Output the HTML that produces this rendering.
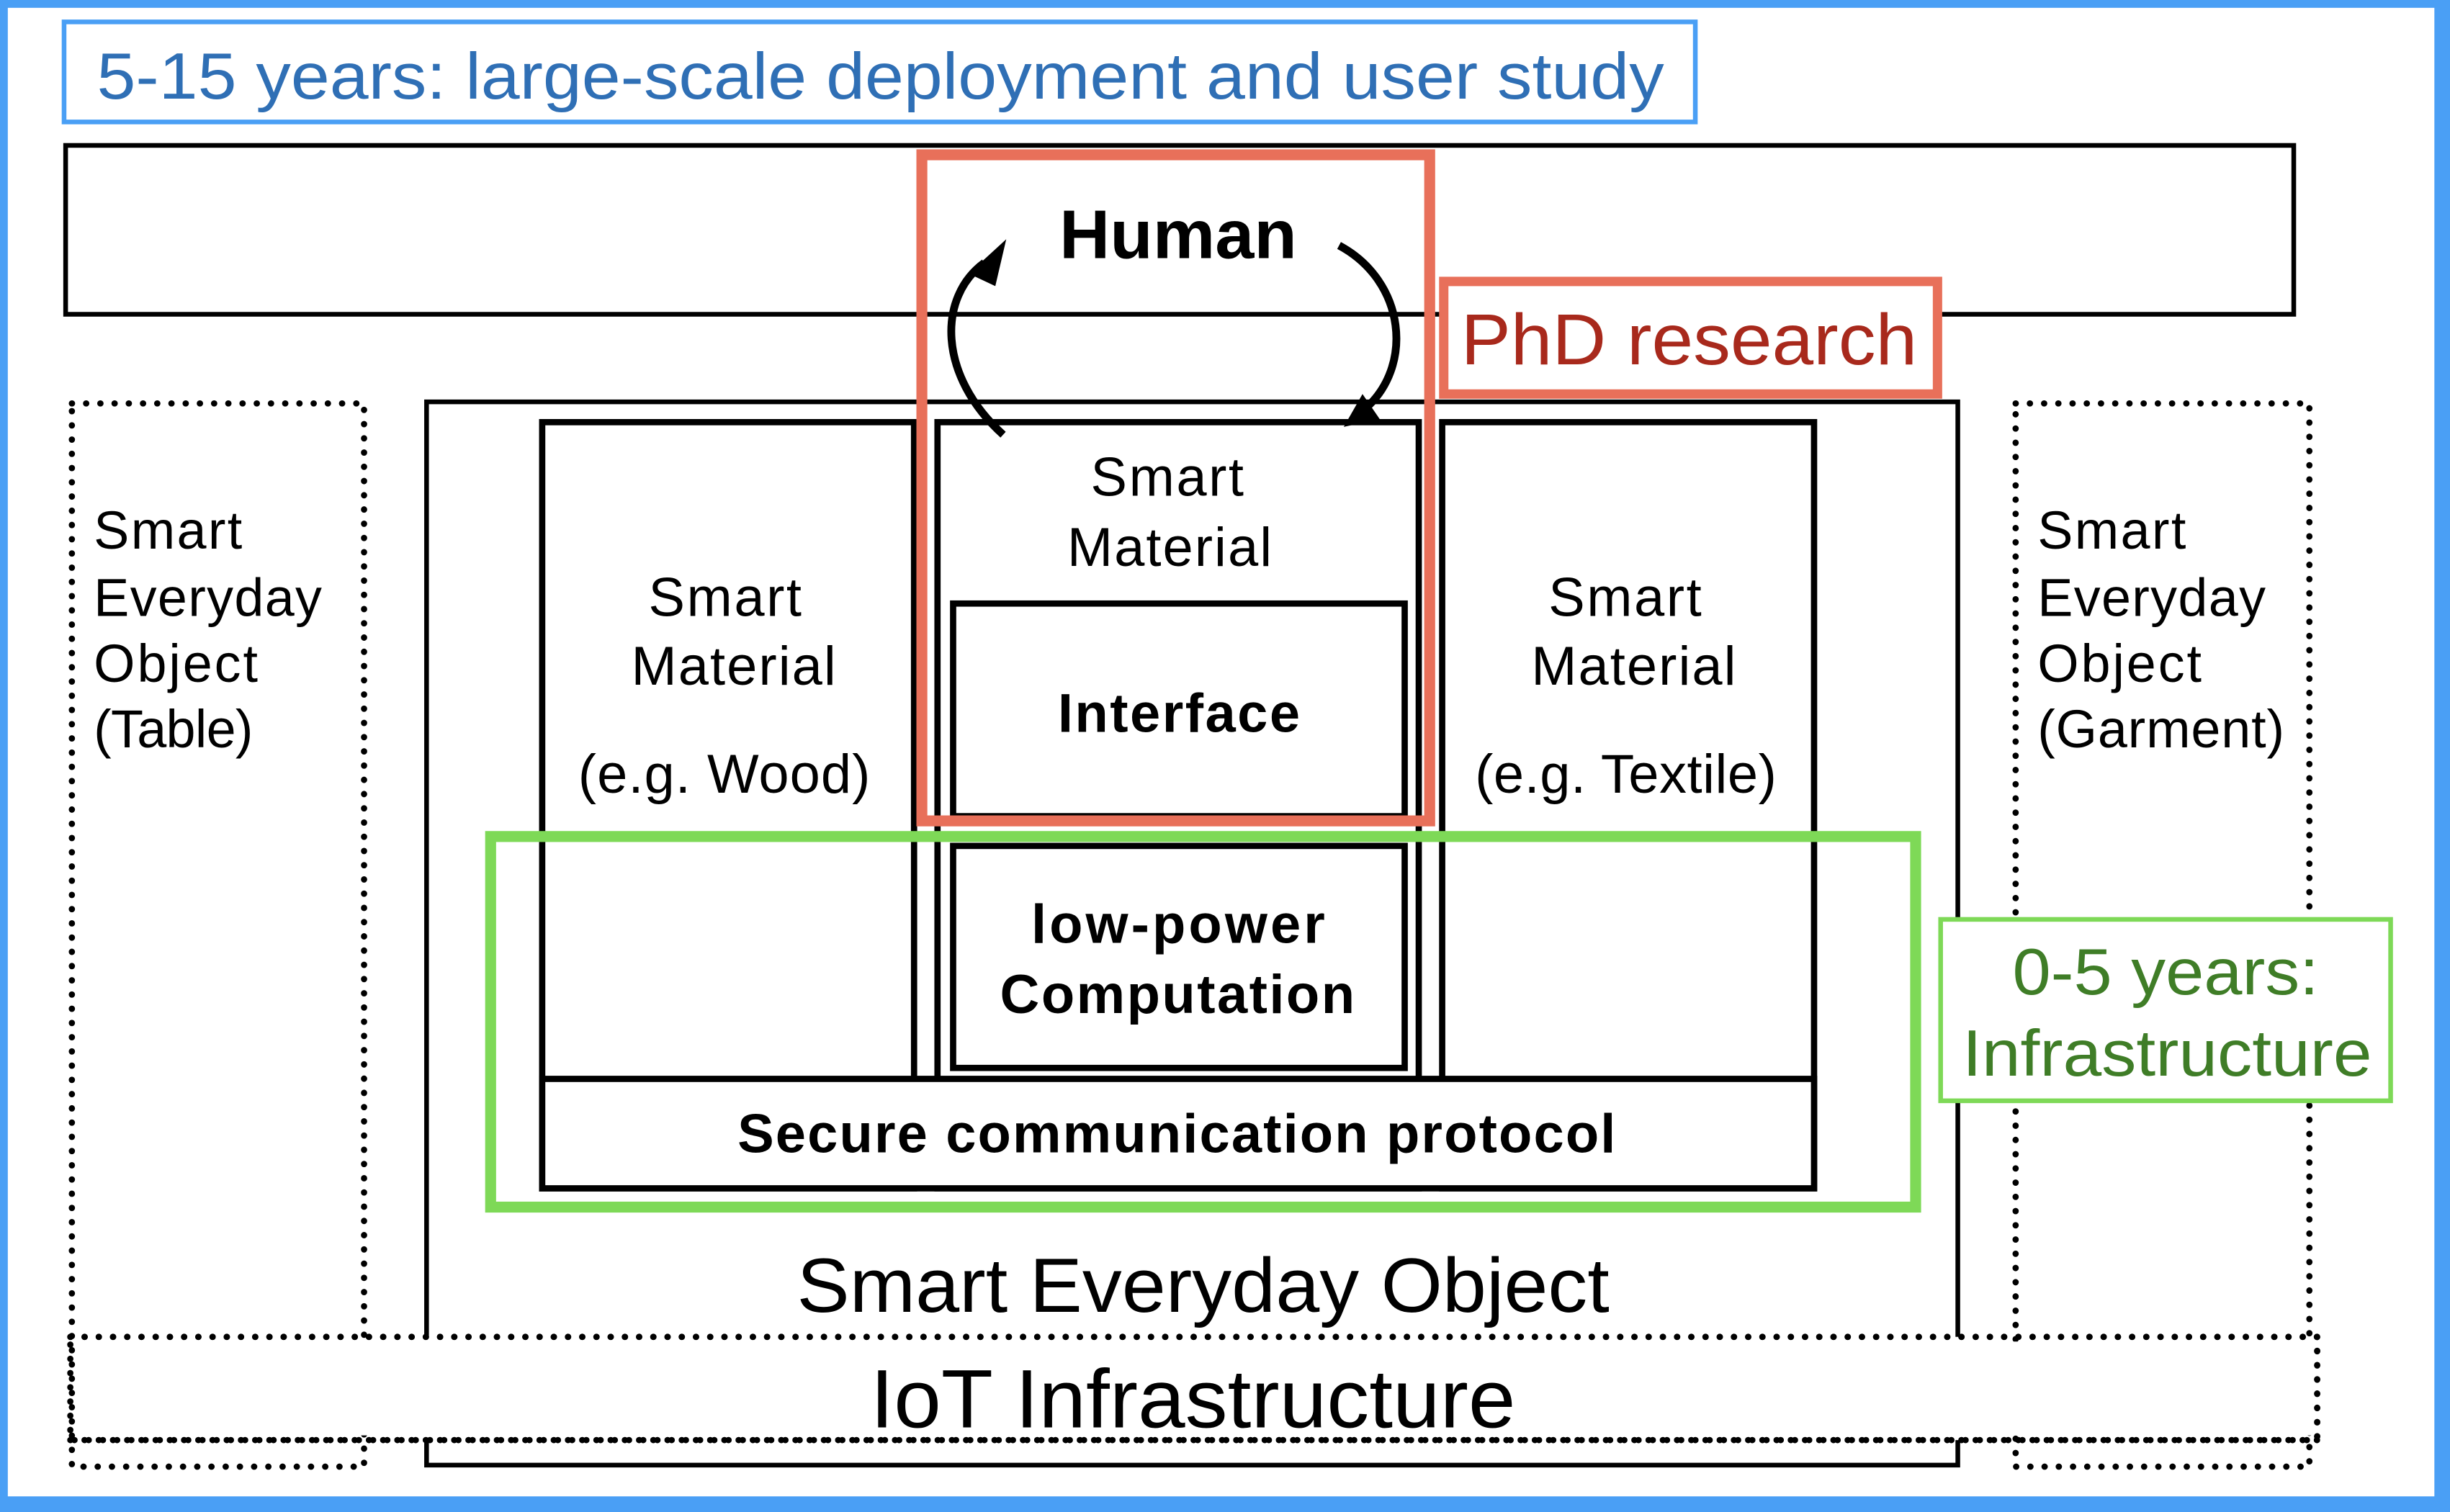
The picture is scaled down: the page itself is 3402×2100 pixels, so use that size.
<!DOCTYPE html>
<html><head><meta charset="utf-8"><style>
html,body{margin:0;padding:0;background:#fff}
svg{display:block}
text{font-family:"Liberation Sans",Arial,sans-serif}
</style></head><body>
<svg width="3402" height="2100" viewBox="0 0 1568 967" preserveAspectRatio="none" xmlns="http://www.w3.org/2000/svg">
<rect x="0" y="0" width="1568" height="967" fill="#4a9ff5"/>
<rect x="5" y="5" width="1553" height="952" fill="#fff"/>
<!-- title -->
<rect x="41" y="14" width="1044" height="64" fill="none" stroke="#4a9ff5" stroke-width="3"/>
<text x="62" y="63" font-size="42" fill="#2f6fb5" textLength="1003" lengthAdjust="spacingAndGlyphs">5-15 years: large-scale deployment and user study</text>
<!-- top band -->
<rect x="42" y="93" width="1426" height="108" fill="none" stroke="#000" stroke-width="3"/>
<!-- dotted side boxes -->
<g fill="none" stroke="#000" stroke-width="4" stroke-dasharray="0.1 9" stroke-linecap="round">
<rect x="46" y="258" width="187" height="680"/>
<rect x="1290" y="258" width="188" height="680"/>
<rect x="45" y="855" width="1438" height="66"/>
</g>
<rect x="49" y="858" width="190" height="60" fill="#fff"/>
<rect x="1284" y="858" width="196" height="60" fill="#fff"/>
<g fill="none" stroke="#000" stroke-width="4" stroke-dasharray="0.1 9" stroke-linecap="round">
<line x1="45" y1="855" x2="1483" y2="855"/>
<line x1="45" y1="921" x2="1483" y2="921"/>
<line x1="1483" y1="855" x2="1483" y2="921"/>
</g>
<!-- SEO box -->
<path d="M273 855 V257 H1253 V855" fill="none" stroke="#000" stroke-width="3"/>
<path d="M273 921 V937 H1253 V921" fill="none" stroke="#000" stroke-width="3"/>
<g font-size="34" lengthAdjust="spacingAndGlyphs">
<text x="60" y="351" textLength="95">Smart</text>
<text x="60" y="394" textLength="146">Everyday</text>
<text x="60" y="436" textLength="105">Object</text>
<text x="60" y="478" textLength="102">(Table)</text>
<text x="1304" y="351" textLength="95">Smart</text>
<text x="1304" y="394" textLength="146">Everyday</text>
<text x="1304" y="436" textLength="105">Object</text>
<text x="1304" y="478" textLength="158">(Garment)</text>
</g>
<!-- materials -->
<g fill="none" stroke="#000" stroke-width="4">
<rect x="347" y="270" width="238" height="490"/>
<rect x="600" y="270" width="308" height="490"/>
<rect x="923" y="270" width="238" height="490"/>
<rect x="347" y="690" width="814" height="70" fill="#fff"/>
<rect x="610" y="386" width="289" height="136"/>
<rect x="610" y="541" width="289" height="142"/>
</g>
<g font-size="35" lengthAdjust="spacingAndGlyphs">
<text x="415" y="394" textLength="98">Smart</text>
<text x="404" y="438" textLength="131">Material</text>
<text x="370" y="507" textLength="187">(e.g. Wood)</text>
<text x="991" y="394" textLength="98">Smart</text>
<text x="980" y="438" textLength="131">Material</text>
<text x="944" y="507" textLength="193">(e.g. Textile)</text>
<text x="698" y="317" textLength="98">Smart</text>
<text x="683" y="362" textLength="131">Material</text>
</g>
<g font-size="35" font-weight="bold" lengthAdjust="spacingAndGlyphs">
<text x="677" y="468" textLength="155">Interface</text>
<text x="660" y="603" textLength="188">low-power</text>
<text x="640" y="648" textLength="227">Computation</text>
<text x="472" y="737" textLength="562">Secure communication protocol</text>
</g>
<!-- red -->
<rect x="590" y="99" width="325" height="426" fill="none" stroke="#e8705a" stroke-width="7"/>
<rect x="924" y="180" width="316" height="72" fill="#fff" stroke="#e8705a" stroke-width="6"/>
<text x="935" y="233" font-size="46" fill="#a8291c" textLength="292" lengthAdjust="spacingAndGlyphs">PhD research</text>
<text x="678" y="165" font-size="44" font-weight="bold" textLength="152" lengthAdjust="spacingAndGlyphs">Human</text>
<!-- arrows -->
<path d="M642 278 C600 240 600 190 630 168" fill="none" stroke="#000" stroke-width="5"/>
<polygon points="644,153 620,175 637,183" fill="#000"/>
<path d="M857 157 C900 180 905 235 873 262" fill="none" stroke="#000" stroke-width="5"/>
<polygon points="860,273 883,268 872,252" fill="#000"/>
<!-- green -->
<rect x="314" y="535" width="912" height="237" fill="none" stroke="#7ed957" stroke-width="7"/>
<rect x="1242" y="588" width="288" height="116" fill="#fff" stroke="#7ed957" stroke-width="3"/>
<text x="1288" y="636" font-size="42" fill="#3f7d27" textLength="196" lengthAdjust="spacingAndGlyphs">0-5 years:</text>
<text x="1256" y="688" font-size="42" fill="#3f7d27" textLength="262" lengthAdjust="spacingAndGlyphs">Infrastructure</text>
<text x="510" y="839" font-size="49" textLength="520" lengthAdjust="spacingAndGlyphs">Smart Everyday Object</text>
<text x="557" y="913" font-size="53" textLength="413" lengthAdjust="spacingAndGlyphs">IoT Infrastructure</text>
</svg>
</body></html>
